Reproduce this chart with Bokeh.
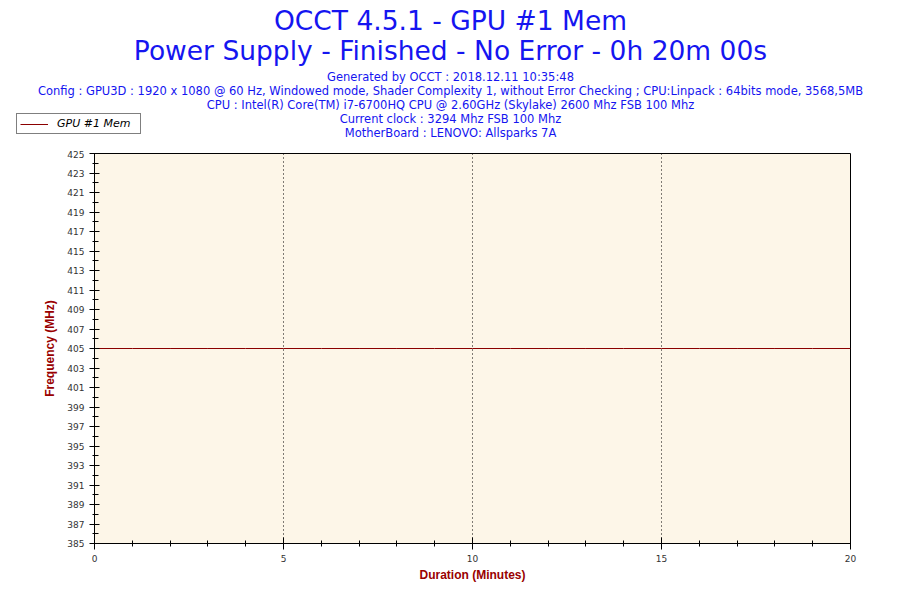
from bokeh.plotting import figure
from bokeh.models import FixedTicker, Label, Legend, LegendItem, Span, Range1d
from bokeh.layouts import column
from bokeh.embed import file_html
from bokeh.resources import INLINE

# ---- data ----
minutes = [0, 1, 2, 3, 4, 5, 6, 7, 8, 9, 10, 11, 12, 13, 14, 15, 16, 17, 18, 19, 20]
gpu_mem_mhz = [405, 405, 405, 405, 405, 405, 405, 405, 405, 405, 405,
               405, 405, 405, 405, 405, 405, 405, 405, 405, 405]
x_major = [0, 5, 10, 15, 20]
x_minor = [1, 2, 3, 4, 6, 7, 8, 9, 11, 12, 13, 14, 16, 17, 18, 19]
y_major = [385, 387, 389, 391, 393, 395, 397, 399, 401, 403, 405, 407, 409, 411, 413, 415, 417, 419, 421, 423, 425]
y_minor = [386, 388, 390, 392, 394, 396, 398, 400, 402, 404, 406, 408, 410, 412, 414, 416, 418, 420, 422, 424]
title_lines = ["OCCT 4.5.1 - GPU #1 Mem",
               "Power Supply - Finished - No Error - 0h 20m 00s"]
info_lines = ["Generated by OCCT : 2018.12.11 10:35:48",
              "Config : GPU3D : 1920 x 1080 @ 60 Hz, Windowed mode, Shader Complexity 1, without Error Checking ; CPU:Linpack : 64bits mode, 3568,5MB",
              "CPU : Intel(R) Core(TM) i7-6700HQ CPU @ 2.60GHz (Skylake) 2600 Mhz FSB 100 Mhz",
              "Current clock : 3294 Mhz FSB 100 Mhz",
              "MotherBoard : LENOVO: Allsparks 7A"]
series_name = "GPU #1 Mem"

W = 884
HEAD_H = 150
MAIN_H = 584 - HEAD_H
SERIES_COLOR = "#8B0000"
TEXT_BLUE = "#1515F0"

# ---------------- header (titles + legend) ----------------
head = figure(width=W, height=HEAD_H, output_backend="svg", toolbar_location=None,
              x_range=Range1d(0, W), y_range=Range1d(HEAD_H, 0),
              min_border_left=0, min_border_right=0, min_border_top=0, min_border_bottom=0)
head.frame_align = False
head.axis.visible = False
head.grid.visible = False
head.outline_line_color = None
head.background_fill_color = "white"
head.border_fill_color = "white"

def add_text(txt, cy, size):
    head.add_layout(Label(x=450, y=cy, text=txt, text_align="center", text_baseline="middle",
                          text_font="DejaVu Sans", text_font_size=size, text_color=TEXT_BLUE))

add_text(title_lines[0], 20, "26.5px")
add_text(title_lines[1], 50, "26.5px")
for i, t in enumerate(info_lines):
    add_text(t, 76 + 14 * i, "11.5px")

# legend entry uses the same series (outside the header's visible range)
hr = head.line(minutes, gpu_mem_mhz, line_color=SERIES_COLOR, line_width=1)
legend = Legend(items=[LegendItem(label=series_name, renderers=[hr])],
                location=(16, HEAD_H - 134))
legend.label_text_font = "DejaVu Sans"
legend.label_text_font_style = "italic"
legend.label_text_font_size = "11px"
legend.label_text_color = "black"
legend.border_line_color = "black"
legend.border_line_width = 1
legend.background_fill_color = "white"
legend.background_fill_alpha = 1
legend.glyph_width = 28
legend.glyph_height = 12
legend.padding = 3
legend.margin = 0
legend.label_standoff = 9
legend.label_width = 80
legend.label_height = 12
legend.spacing = 0
head.add_layout(legend, "center")

# ---------------- main chart ----------------
p = figure(width=W, height=MAIN_H, output_backend="svg", toolbar_location=None,
           x_range=Range1d(0, 20), y_range=Range1d(385, 425),
           min_border_left=94, min_border_right=34, min_border_top=3, min_border_bottom=39)
p.frame_align = False
p.background_fill_color = "#FDF6E8"
p.border_fill_color = "white"
p.outline_line_color = "black"
p.outline_line_width = 1
p.xgrid.visible = False
p.ygrid.visible = False

for xv in x_major[1:-1]:
    p.add_layout(Span(location=xv, dimension="height", line_color="black",
                      line_dash="1 3", line_width=1))

p.line(minutes, gpu_mem_mhz, line_color=SERIES_COLOR, line_width=1)

p.xaxis.ticker = FixedTicker(ticks=x_major, minor_ticks=x_minor)
p.yaxis.ticker = FixedTicker(ticks=y_major, minor_ticks=y_minor)
for ax in (p.xaxis, p.yaxis):
    ax.axis_line_color = "black"
    ax.major_tick_line_color = "black"
    ax.minor_tick_line_color = "black"
    ax.major_label_text_font = "DejaVu Sans"
    ax.major_label_text_font_size = "9px"
    ax.major_label_text_color = "#333333"
    ax.axis_label_text_font = "Liberation Sans"
    ax.axis_label_text_font_style = "bold"
    ax.axis_label_text_font_size = "12px"
    ax.axis_label_text_color = "#990000"
p.xaxis.major_tick_in = 6
p.xaxis.major_tick_out = 6
p.xaxis.minor_tick_in = 3
p.xaxis.minor_tick_out = 3
p.yaxis.major_tick_in = 5
p.yaxis.major_tick_out = 5
p.yaxis.minor_tick_in = 4
p.yaxis.minor_tick_out = 2
p.xaxis.axis_label = "Duration (Minutes)"
p.yaxis.axis_label = "Frequency (MHz)"
p.xaxis.major_label_standoff = 5
p.yaxis.major_label_standoff = 5
p.xaxis.axis_label_standoff = 3
p.yaxis.axis_label_standoff = 7

layout = column(head, p, spacing=0)
open("out.html", "w").write(file_html(layout, INLINE))
